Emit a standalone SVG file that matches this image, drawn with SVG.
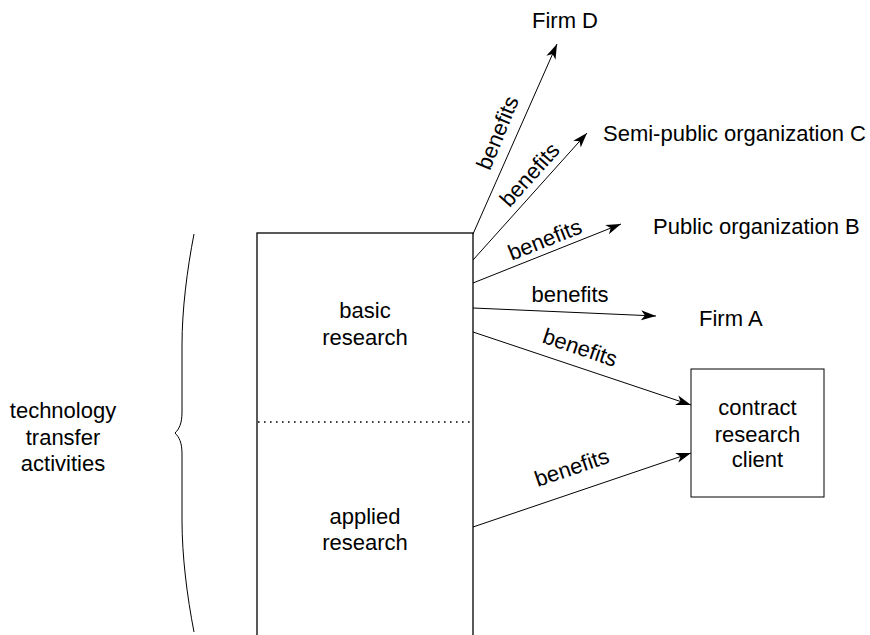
<svg xmlns="http://www.w3.org/2000/svg" width="870" height="635" viewBox="0 0 870 635">
<defs>
<style>
text{font-family:"Liberation Sans",Arial,sans-serif;font-size:22px;fill:#000}
.c{text-anchor:middle}
.ln{stroke:#000;stroke-width:1;fill:none}
.bx{stroke:#000;stroke-width:1.3;fill:#fff}
</style>
<marker id="ah" markerUnits="userSpaceOnUse" markerWidth="16" markerHeight="12" viewBox="0 0 16 12" refX="15" refY="6" orient="auto">
<path d="M0,1 L15,6 L0,11 L4,6 z" fill="#000"/>
</marker>
</defs>
<rect width="870" height="635" fill="#fff"/>
<g id="tta">
<path class="ln" stroke-width="1.5" d="M194,234 C187,270 182,310 182,345 L182,412 C182,424 179,429 175,433 C179,437 182,442 182,454 L182,520 C182,556 187,596 194,632"/>
<text class="c" x="63" y="418">technology</text>
<text class="c" x="63" y="444.5">transfer</text>
<text class="c" x="63" y="471">activities</text>
</g>
<g id="research">
<rect class="bx" x="257" y="233" width="216" height="420"/>
<line x1="258" y1="422" x2="472" y2="422" stroke="#000" stroke-width="1.6" stroke-dasharray="1.6 4.4"/>
<text class="c" x="365" y="318">basic</text>
<text class="c" x="365" y="345">research</text>
<text class="c" x="365" y="524">applied</text>
<text class="c" x="365" y="550">research</text>
</g>
<g id="firmD"><text x="532" y="28">Firm D</text></g>
<g id="semiC"><text x="603" y="141">Semi-public organization C</text></g>
<g id="publicB"><text x="653" y="234">Public organization B</text></g>
<g id="firmA"><text x="699" y="326">Firm A</text></g>
<g id="client">
<rect x="691" y="369" width="133" height="128" fill="#fff" stroke="#000" stroke-width="1"/>
<text class="c" x="757.5" y="415">contract</text>
<text class="c" x="757.5" y="442">research</text>
<text class="c" x="757.5" y="467">client</text>
</g>
<g id="connectors">
<line class="ln" x1="473" y1="234" x2="557" y2="44" marker-end="url(#ah)"/>
<line class="ln" x1="473" y1="260" x2="587" y2="133" marker-end="url(#ah)"/>
<line class="ln" x1="473" y1="283" x2="621" y2="224" marker-end="url(#ah)"/>
<line class="ln" x1="473" y1="308" x2="656" y2="316" marker-end="url(#ah)"/>
<line class="ln" x1="473" y1="332" x2="691" y2="405" marker-end="url(#ah)"/>
<line class="ln" x1="473" y1="527" x2="691" y2="453" marker-end="url(#ah)"/>
<text class="c" transform="translate(498,133) rotate(-67.7)" y="7">benefits</text>
<text class="c" transform="translate(530,175) rotate(-48)" y="7">benefits</text>
<text class="c" transform="translate(545,240) rotate(-21.5)" y="7">benefits</text>
<text class="c" transform="translate(570,295)" y="7">benefits</text>
<text class="c" transform="translate(580,348) rotate(18.6)" y="7">benefits</text>
<text class="c" transform="translate(572,468) rotate(-18.8)" y="7">benefits</text>
</g>
</svg>
